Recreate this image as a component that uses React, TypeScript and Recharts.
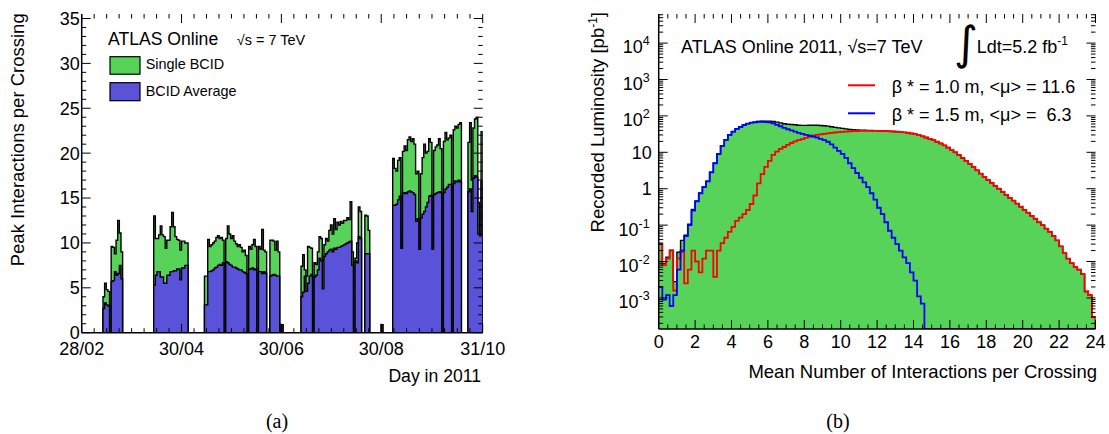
import React from 'react';
import { ComposedChart, Area, Line, XAxis, YAxis } from 'recharts';

const SANS = '"Liberation Sans", Arial, Helvetica, sans-serif';
const SERIF = '"Liberation Serif", "DejaVu Serif", serif';
const GREEN = '#58d35a';
const BLUE_FILL = '#5a52d8';

// ---------------- Panel (a): peak interactions per crossing ----------------
// day index = days since 28/02/2011
const dateTickDays = [0, 61, 122, 183, 245];
const dateTickLabels = ['28/02', '30/04', '30/06', '30/08', '31/10'];
const peakTicks = [0, 5, 10, 15, 20, 25, 30, 35];
const runStartDays = [13, 44, 75, 122, 134, 183, 190];
const singleBcidRuns = [
  [4.0, 5.5, 4.8, 4.6, 0, 9.6, 9.5, 8.8, 10.3, 12.5, 11.1, 9.0],
  [13.0, 10.5, 10.5, 10.9, 11.9, 10.9, 10.7, 9.4, 10.3, 10.3, 11.8, 13.4, 11.8, 10.7, 10.4, 10.3, 9.2, 10.2, 10.2, 10.0, 10.0],
  [6.3, 6.3, 10.4, 9.6, 9.8, 10.0, 10.2, 10.6, 10.8, 10.5, 10.6, 10.3, 0, 10.5, 11.9, 11.0, 10.5, 10.8, 10.2, 9.9, 9.6, 9.8, 9.5, 9.0, 9.2, 8.6, 0, 9.6, 9.3, 9.8, 10.4, 9.6, 0, 9.6, 9.3, 11.5, 9.2, 9.0, 0, 0, 10.3, 10.3, 10.2, 9.2, 10.2, 9.0],
  [0.9],
  [7.4, 8.7, 7.0, 6.3, 9.6, 9.5, 9.4, 0, 7.8, 7.6, 9.0, 10.7, 10.5, 8.0, 9.8, 10.5, 10.2, 11.4, 12.0, 11.0, 12.7, 11.5, 12.3, 12.0, 12.4, 12.2, 12.5, 12.5, 12.8, 12.6, 14.6, 9.0, 0, 8.3, 10.0, 14.0, 13.5, 0, 0, 13.1, 13.0, 11.4],
  [0.9],
  [19.4, 18.3, 18.0, 19.2, 19.5, 9.5, 20.2, 20.8, 20.3, 21.5, 21.8, 21.3, 21.6, 21.0, 17.7, 18.0, 9.5, 17.7, 19.5, 21.0, 20.0, 20.2, 21.6, 21.2, 9.4, 20.3, 20.7, 20.9, 21.6, 20.5, 0, 21.3, 22.3, 21.5, 21.7, 22.0, 0, 22.6, 23.0, 22.8, 23.2, 23.4, 0, 0, 0, 0, 21.2, 23.4, 17.0, 22.8, 23.8, 24.0, 14.5, 11.0, 22.4],
];
const bcidAverageRuns = [
  [2.7, 3.3, 3.1, 3.0, 0, 5.7, 5.8, 6.8, 6.4, 6.6, 7.5, 6.0],
  [5.3, 6.4, 6.8, 6.8, 6.2, 6.2, 5.5, 5.5, 6.4, 6.4, 6.8, 6.8, 6.9, 6.9, 7.1, 7.1, 5.9, 7.2, 7.2, 7.5, 7.5],
  [3.1, 3.1, 6.8, 6.8, 6.9, 7.0, 7.2, 7.3, 7.5, 7.6, 7.5, 7.8, 0, 7.9, 7.8, 7.6, 7.5, 7.3, 7.3, 7.2, 7.1, 7.0, 7.0, 6.8, 6.7, 6.6, 0, 7.1, 7.1, 7.2, 7.0, 7.1, 0, 6.8, 6.8, 6.6, 6.8, 6.6, 0, 0, 6.3, 6.4, 6.5, 6.4, 6.3, 6.3],
  [0.9],
  [4.0, 4.5, 6.3, 4.6, 5.5, 6.3, 6.5, 0, 6.2, 6.4, 7.0, 8.3, 8.0, 4.9, 8.5, 8.8, 9.0, 9.2, 9.3, 9.0, 9.4, 9.3, 9.5, 9.5, 9.6, 9.7, 9.8, 9.9, 10.0, 10.1, 10.2, 7.5, 0, 8.0, 7.8, 10.7, 10.5, 0, 0, 8.8, 8.8, 8.8],
  [0.9],
  [14.2, 14.2, 14.3, 14.8, 15.2, 9.4, 15.5, 15.6, 15.5, 15.7, 15.8, 15.7, 15.6, 15.4, 12.4, 12.7, 9.3, 12.8, 13.2, 13.5, 14.0, 14.5, 15.2, 15.3, 9.3, 15.4, 15.5, 15.6, 15.7, 15.6, 0, 15.6, 16.0, 16.2, 16.5, 16.5, 0, 16.6, 16.9, 16.8, 17.0, 16.8, 0, 0, 0, 0, 15.7, 16.0, 13.5, 17.2, 17.5, 17.3, 11.0, 10.8, 16.8],
];

// ---------------- Panel (b): recorded luminosity vs <mu> ----------------
const muTicks = [0, 2, 4, 6, 8, 10, 12, 14, 16, 18, 20, 22, 24];
const lumiDecades = [1e-3, 1e-2, 1e-1, 1, 10, 100, 1e3, 1e4];
const muBinWidth = 0.2;
// beta* = 1.0 m (red), pb^-1 per bin, bins starting at 0.0, 0.2, ... 23.8
const lumiBeta10 = [
  0.03, 0.008, 0.012, 0.02, 0.0016, 0.012, 0.018, 0.0025, 0.006, 0.02,
  0.01, 0.005, 0.012, 0.02, 0.02, 0.0038, 0.02, 0.032, 0.045, 0.065,
  0.09, 0.13, 0.16, 0.2, 0.26, 0.38, 0.65, 1.4, 2.5, 4.0,
  5.8, 8.5, 10.5, 12.5, 14, 16, 18, 20, 21.5, 23,
  25, 27, 28.5, 30, 31, 32, 33, 34, 35, 36,
  36.5, 37, 37.5, 38, 38.5, 38.8, 39, 39, 39, 39,
  38.8, 38.5, 38.2, 37.8, 37.3, 36.8, 36, 35.3, 34.5, 33,
  31.5, 29.5, 27.5, 25.5, 23.5, 21.5, 19.5, 17.5, 15.5, 13.5,
  11.5, 10, 8.5, 7, 5.8, 4.8, 4.0, 3.2, 2.6, 2.1,
  1.75, 1.45, 1.2, 1.0, 0.82, 0.68, 0.56, 0.47, 0.39, 0.32,
  0.26, 0.22, 0.18, 0.15, 0.12, 0.1, 0.08, 0.065, 0.05, 0.038,
  0.026, 0.017, 0.012, 0.009, 0.007, 0.006, 0.0045, 0.0015, 0.0012, 0.0003,
];
// beta* = 1.5 m (blue)
const lumiBeta15 = [
  0.002, 0.0009, 0.0012, 0.0006, 0.0012, 0.006, 0.02, 0.05, 0.1, 0.25,
  0.45, 0.75, 1.1, 1.6, 2.8, 5, 9, 15, 22, 30,
  37, 44, 50, 56, 61, 65, 67, 69, 69, 68,
  66, 62, 57, 52, 47, 43, 40, 37, 34, 32,
  30, 28.5, 27, 25.5, 23.5, 21.5, 19.5, 16.5, 13.5, 11,
  9, 7, 5, 3.7, 2.7, 2.0, 1.5, 1.1, 0.75, 0.5,
  0.3, 0.2, 0.12, 0.07, 0.045, 0.03, 0.02, 0.013, 0.009, 0.005,
  0.003, 0.0011, 0.0007, 0, 0, 0, 0, 0, 0, 0,
  0, 0, 0, 0, 0, 0, 0, 0, 0, 0,
  0, 0, 0, 0, 0, 0, 0, 0, 0, 0,
  0, 0, 0, 0, 0, 0, 0, 0, 0, 0,
  0, 0, 0, 0, 0, 0, 0, 0, 0, 0,
];

// ---------------- tables ----------------
const LAST_DAY = 245;
const dayTable: { day: number; single: number; average: number }[] = [];
for (let d = 0; d <= LAST_DAY; d++) dayTable.push({ day: d, single: 0, average: 0 });
runStartDays.forEach((start, r) => {
  singleBcidRuns[r].forEach((v, i) => {
    dayTable[start + i].single = v;
    dayTable[start + i].average = bcidAverageRuns[r][i];
  });
});

const LUMI_MIN = 1.4e-4; // bottom of the log axis (empty bins drawn here)
const LUMI_MAX = 6.3e4;
const MU_MAX = 24;
const atFloor = (v: number) => (v > 0 ? v : LUMI_MIN);
const lumiTable = lumiBeta10.map((r, i) => {
  const b = lumiBeta15[i];
  return { mu: i * muBinWidth, red: atFloor(r), blue: atFloor(b), total: atFloor(r + b) };
});
lumiTable.push({ mu: MU_MAX, red: LUMI_MIN, blue: LUMI_MIN, total: LUMI_MIN });

// ---------------- layout ----------------
const Y_AXIS_W = 60;
const X_AXIS_H = 30;
const A_SIZE = { w: 580, h: 434 };
const A_MARGIN = { top: 14, right: 97.3, bottom: 71.3, left: 21.7 };
const B_SIZE = { w: 549, h: 434 };
const B_MARGIN = { top: 14, right: 13.5, bottom: 75, left: 38.7 };
const plotW = (s: { w: number }, m: typeof A_MARGIN) => s.w - m.left - m.right - Y_AXIS_W;
const plotH = (s: { h: number }, m: typeof A_MARGIN) => s.h - m.top - m.bottom - X_AXIS_H;

// ---------------- tick helpers ----------------
const subdivide = (majors: number[], n: number) => {
  const out: number[] = [];
  for (let k = 0; k < majors.length - 1; k++) {
    for (let j = 1; j < n; j++) out.push(majors[k] + ((majors[k + 1] - majors[k]) * j) / n);
  }
  return out;
};
const dateAll = [...dateTickDays, ...subdivide(dateTickDays, 8)];
const peakAll = [...peakTicks, ...subdivide(peakTicks, 5)];
const muAll = [...muTicks, ...subdivide(muTicks, 4)];
const lumiAll: number[] = [...lumiDecades];
for (let e = -4; e <= 4; e++) {
  for (let k = 2; k <= 9; k++) {
    const v = k * Math.pow(10, e);
    if (v >= LUMI_MIN && v <= LUMI_MAX) lumiAll.push(v);
  }
}

const isMajor = (v: number, majors: number[]) =>
  majors.some((m) => (m === 0 ? v === 0 : Math.abs(m - v) <= 1e-6 * Math.abs(m)));

// Draws the inward tick on the labelled axis AND the mirrored tick on the opposite frame side.
function tickRenderer(
  side: 'bottom' | 'left',
  majors: number[],
  span: number,
  label: (v: number, x: number, y: number) => React.ReactNode,
) {
  return (props: any) => {
    const { x, y, payload } = props;
    const v = payload.value as number;
    const major = isMajor(v, majors);
    const len = major ? 9 : 4.5;
    return (
      <g>
        {side === 'bottom' ? (
          <>
            <line x1={x} y1={y} x2={x} y2={y - len} stroke="#000" strokeWidth={1} />
            <line x1={x} y1={y - span} x2={x} y2={y - span + len} stroke="#000" strokeWidth={1} />
          </>
        ) : (
          <>
            <line x1={x} y1={y} x2={x + len} y2={y} stroke="#000" strokeWidth={1} />
            <line x1={x + span} y1={y} x2={x + span - len} y2={y} stroke="#000" strokeWidth={1} />
          </>
        )}
        {major ? label(v, x, y) : null}
      </g>
    );
  };
}

const frame = { stroke: '#000', strokeWidth: 1.5 };

const dateLabel = (v: number, x: number, y: number) => (
  <text x={x} y={y + 10} dy="0.71em" textAnchor="middle" fontSize={18} fontFamily={SANS} fill="#000">
    {dateTickLabels[dateTickDays.indexOf(v)]}
  </text>
);
const peakLabel = (v: number, x: number, y: number) => (
  <text x={x - 2} y={y} dy="0.355em" textAnchor="end" fontSize={18} fontFamily={SANS} fill="#000">
    {v}
  </text>
);
const muLabel = (v: number, x: number, y: number) => (
  <text x={x} y={y + 6} dy="0.71em" textAnchor="middle" fontSize={18} fontFamily={SANS} fill="#000">
    {v}
  </text>
);
const lumiLabel = (v: number, x: number, y: number) => {
  const e = Math.round(Math.log10(v));
  if (e === 0 || e === 1) {
    return (
      <text x={x - 7} y={y} dy="0.355em" textAnchor="end" fontSize={18} fontFamily={SANS} fill="#000">
        {e === 0 ? '1' : '10'}
      </text>
    );
  }
  return (
    <text x={x - 9} y={y + 4} dy="0.355em" textAnchor="end" fontSize={18} fontFamily={SANS} fill="#000">
      10
      <tspan dy={-8} fontSize={12.5}>{e < 0 ? `-${-e}` : `${e}`}</tspan>
    </text>
  );
};

const aBottomTick = tickRenderer('bottom', dateTickDays, plotH(A_SIZE, A_MARGIN), dateLabel);
const aLeftTick = tickRenderer('left', peakTicks, plotW(A_SIZE, A_MARGIN), peakLabel);
const bBottomTick = tickRenderer('bottom', muTicks, plotH(B_SIZE, B_MARGIN), muLabel);
const bLeftTick = tickRenderer('left', lumiDecades, plotW(B_SIZE, B_MARGIN), lumiLabel);

function PanelA() {
  const dom: [number, number] = [0, LAST_DAY];
  const ydom: [number, number] = [0, 35.5];
  return (
    <ComposedChart width={A_SIZE.w} height={A_SIZE.h} data={dayTable} margin={A_MARGIN}>
      <Area xAxisId="a" yAxisId="a" type="stepAfter" dataKey="single" stroke="#000" strokeWidth={1.4}
        fill={GREEN} fillOpacity={1} isAnimationActive={false} dot={false} activeDot={false} />
      <Area xAxisId="a" yAxisId="a" type="stepAfter" dataKey="average" stroke="#000" strokeWidth={1.4}
        fill={BLUE_FILL} fillOpacity={1} isAnimationActive={false} dot={false} activeDot={false} />
      <XAxis xAxisId="a" dataKey="day" type="number" domain={dom} allowDataOverflow ticks={dateAll}
        interval={0} tickSize={0} tickMargin={0} tickLine={false} axisLine={frame} tick={aBottomTick} height={X_AXIS_H} />
      <XAxis xAxisId="at" type="number" domain={dom} allowDataOverflow ticks={dateTickDays} interval={0}
        orientation="top" mirror height={0} tick={false} tickLine={false} axisLine={frame} />
      <YAxis yAxisId="a" type="number" domain={ydom} allowDataOverflow ticks={peakAll} interval={0}
        tickSize={0} tickMargin={0} tickLine={false} axisLine={frame} tick={aLeftTick} width={Y_AXIS_W} />
      <YAxis yAxisId="ar" type="number" domain={ydom} allowDataOverflow ticks={peakTicks} interval={0}
        orientation="right" mirror width={0} tick={false} tickLine={false} axisLine={frame} />
    </ComposedChart>
  );
}

function PanelB() {
  const dom: [number, number] = [0, MU_MAX];
  const ydom: [number, number] = [LUMI_MIN, LUMI_MAX];
  return (
    <ComposedChart width={B_SIZE.w} height={B_SIZE.h} data={lumiTable} margin={B_MARGIN}>
      <Area xAxisId="b" yAxisId="b" type="stepAfter" dataKey="total" stroke="#000" strokeWidth={1.4}
        fill={GREEN} fillOpacity={1} baseValue="dataMin" isAnimationActive={false} dot={false} activeDot={false} />
      <Line xAxisId="b" yAxisId="b" type="stepAfter" dataKey="red" stroke="#ff0000" strokeWidth={1.8}
        dot={false} activeDot={false} isAnimationActive={false} />
      <Line xAxisId="b" yAxisId="b" type="stepAfter" dataKey="blue" stroke="#0000ff" strokeWidth={1.8}
        dot={false} activeDot={false} isAnimationActive={false} />
      <XAxis xAxisId="b" dataKey="mu" type="number" domain={dom} allowDataOverflow ticks={muAll} interval={0}
        tickSize={0} tickMargin={0} tickLine={false} axisLine={frame} tick={bBottomTick} height={X_AXIS_H} />
      <XAxis xAxisId="bt" type="number" domain={dom} allowDataOverflow ticks={muTicks} interval={0}
        orientation="top" mirror height={0} tick={false} tickLine={false} axisLine={frame} />
      <YAxis yAxisId="b" type="number" scale="log" domain={ydom} allowDataOverflow ticks={lumiAll} interval={0}
        tickSize={0} tickMargin={0} tickLine={false} axisLine={frame} tick={bLeftTick} width={Y_AXIS_W} />
      <YAxis yAxisId="br" type="number" scale="log" domain={ydom} allowDataOverflow ticks={lumiDecades} interval={0}
        orientation="right" mirror width={0} tick={false} tickLine={false} axisLine={frame} />
    </ComposedChart>
  );
}

function Overlay() {
  return (
    <svg width={1109} height={434} style={{ position: 'absolute', left: 0, top: 0, pointerEvents: 'none' }}
      fontFamily={SANS} fill="#000">
      {/* panel (a) */}
      <text transform="translate(23.5,13.3) rotate(-90)" textAnchor="end" fontSize={18.5}>
        Peak Interactions per Crossing
      </text>
      <text x={481} y={381.7} textAnchor="end" fontSize={17.6}>Day in 2011</text>
      <text x={108} y={45} fontSize={17.6}>ATLAS Online</text>
      <text x={236.7} y={45} fontSize={14.5}>√s = 7 TeV</text>
      <rect x={110} y={56.7} width={30} height={17.5} fill={GREEN} stroke="#000" strokeWidth={1.2} />
      <text x={145.7} y={69.3} fontSize={14.4}>Single BCID</text>
      <rect x={110} y={82.7} width={30} height={18} fill={BLUE_FILL} stroke="#000" strokeWidth={1.2} />
      <text x={145.7} y={95.7} fontSize={14.4}>BCID Average</text>
      <text x={277} y={428} textAnchor="middle" fontSize={20} fontFamily={SERIF}>(a)</text>

      {/* panel (b) */}
      <text transform="translate(604,12) rotate(-90)" textAnchor="end" fontSize={18.5}>
        Recorded Luminosity [pb<tspan dy={-7} fontSize={12}>-1</tspan><tspan dy={7}>]</tspan>
      </text>
      <text x={1097} y={378.3} textAnchor="end" fontSize={18.5}>Mean Number of Interactions per Crossing</text>
      <text x={681} y={52.7} fontSize={18}>ATLAS Online 2011, √s=7 TeV</text>
      <text x={954} y={59} fontSize={46} fontFamily='"DejaVu Sans", sans-serif'>∫</text>
      <text x={976.7} y={52.7} fontSize={18}>
        Ldt=5.2 fb<tspan dy={-8} fontSize={12}>-1</tspan>
      </text>
      <line x1={848} x2={875} y1={85.3} y2={85.3} stroke="#ff0000" strokeWidth={2} />
      <line x1={848} x2={875} y1={113.3} y2={113.3} stroke="#0000ff" strokeWidth={2} />
      <text x={891.7} y={93.3} fontSize={18} style={{ whiteSpace: 'pre' }}>{'β * = 1.0 m, <μ> = 11.6'}</text>
      <text x={891.7} y={121.3} fontSize={18} style={{ whiteSpace: 'pre' }}>{'β * = 1.5 m, <μ> =  6.3'}</text>
      <text x={838} y={428} textAnchor="middle" fontSize={20} fontFamily={SERIF}>(b)</text>
    </svg>
  );
}

export default function App() {
  return (
    <div style={{ position: 'absolute', left: 0, top: 0, width: 1109, height: 434, background: '#fff' }}>
      <div style={{ position: 'absolute', left: 0, top: 0 }}>
        <PanelA />
      </div>
      <div style={{ position: 'absolute', left: 560, top: 0 }}>
        <PanelB />
      </div>
      <Overlay />
    </div>
  );
}
